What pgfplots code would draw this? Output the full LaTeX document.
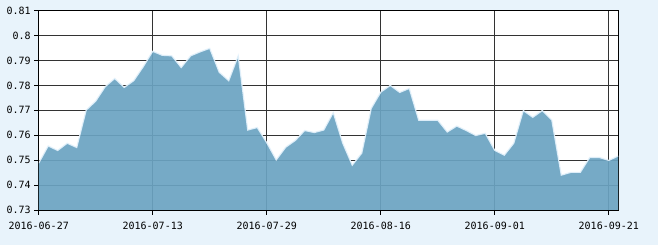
\documentclass[border=0pt]{standalone}
\usepackage{pgfplots}
\pgfplotsset{compat=1.18}
\usepackage{pgfplotstable}
\usepackage{fontspec}
\newfontfamily\tickfont{DejaVu Sans Mono}
\definecolor{bgblue}{RGB}{232,243,251}
\definecolor{areablue}{RGB}{107,163,194}
\definecolor{edgeblue}{RGB}{228,242,252}
\definecolor{gridgray}{RGB}{51,51,51}
\pgfplotstableread{
i v
0 0.7488
1 0.7557
2 0.7539
3 0.7568
4 0.7551
5 0.7701
6 0.7737
7 0.7795
8 0.7828
9 0.7792
10 0.7819
11 0.7875
12 0.7937
13 0.7921
14 0.7919
15 0.7872
16 0.7919
17 0.7935
18 0.7949
19 0.7853
20 0.7819
21 0.7919
22 0.7621
23 0.7631
24 0.7570
25 0.7501
26 0.7552
27 0.7579
28 0.7619
29 0.7611
30 0.7621
31 0.7691
32 0.7568
33 0.7480
34 0.7528
35 0.7708
36 0.7773
37 0.7800
38 0.7772
39 0.7788
40 0.7660
41 0.7660
42 0.7660
43 0.7613
44 0.7637
45 0.7619
46 0.7599
47 0.7608
48 0.7539
49 0.7520
50 0.7568
51 0.7699
52 0.7672
53 0.7699
54 0.7661
55 0.7440
56 0.7451
57 0.7451
58 0.7511
59 0.7511
60 0.7499
61 0.7517
}\datatable
\begin{document}
\begin{tikzpicture}
\fill[bgblue] (-38.7bp,-35bp) rectangle (619.3bp,210bp);
\begin{axis}[
  at={(0,0)}, anchor=south west,
  scale only axis, width=579.6bp, height=199.3bp,
  xmin=0, xmax=61, ymin=0.73, ymax=0.81,
  axis background/.style={fill=white},
  xtick={0,12,24,36,48,60},
  xticklabels={2016-06-27,2016-07-13,2016-07-29,2016-08-16,2016-09-01,2016-09-21},
  xticklabel style={yshift=-4bp},
  ytick={0.73,0.74,0.75,0.76,0.77,0.78,0.79,0.8,0.81},
  yticklabel={\pgfmathprintnumber[fixed,precision=2]{\tick}},
  /pgf/number format/assume math mode=true,
  ticklabel style={font=\tickfont\fontsize{10bp}{12bp}\selectfont},
  grid=major,
  major grid style={color=gridgray, line width=1bp},
  axis line style={black, line width=1bp},
  tick style={black, line width=1bp},
  tick align=outside, tick pos=left,
  major tick length=4.5bp,
  clip=true,
]
\addplot[fill=areablue, fill opacity=0.92, draw=none] table[x=i,y=v]{\datatable} \closedcycle;
\addplot[draw=edgeblue, line width=1.2bp, draw opacity=0.9] table[x=i,y=v]{\datatable};
\draw[black, line width=1bp] (rel axis cs:0,0) rectangle (rel axis cs:1,1);
\end{axis}
\end{tikzpicture}
\end{document}
